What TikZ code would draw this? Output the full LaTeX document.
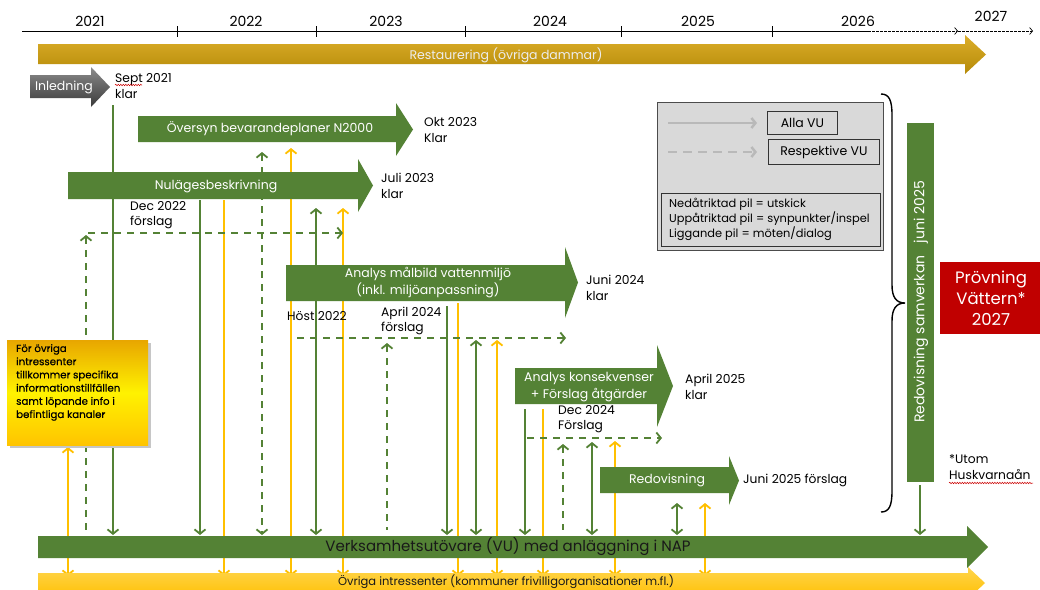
\documentclass[tikz,border=0pt]{standalone}
\usepackage{fontspec}
\setmainfont{Poppins}
\newfontfamily\infofont[FakeBold=0.5]{Poppins}
\usetikzlibrary{arrows.meta,decorations.pathmorphing}
\definecolor{grn}{HTML}{548235}
\definecolor{ylw}{HTML}{FFC000}
\definecolor{resttop}{HTML}{DCAE2A}
\definecolor{restbot}{HTML}{B58A08}
\definecolor{ovrtop}{HTML}{FFD54D}
\definecolor{ovrbot}{HTML}{FFBF00}
\definecolor{inltop}{HTML}{8C8C8C}
\definecolor{inlbot}{HTML}{3A3A3A}
\definecolor{legbg}{HTML}{D9D9D9}
\definecolor{provred}{HTML}{C00000}
\definecolor{infotop}{HTML}{E8A600}
\definecolor{infomid}{HTML}{FFF200}
\definecolor{infobot}{HTML}{FFC400}
\newcommand\parrow[8]{\path[#1] (#2,#5) -- (#3,#5) -- (#3,#7) -- (#4,{(#7+#8)/2}) -- (#3,#8) -- (#3,#6) -- (#2,#6) -- cycle;}
\begin{document}
\begin{tikzpicture}[x=1pt,y=-1pt,
  >={Straight Barb[length=4.5pt,width=11pt]},
  gv/.style={draw=grn,line width=1.8pt},
  gd/.style={gv,dash pattern=on 7pt off 6pt},
  yv/.style={draw=ylw,line width=1.8pt},
  lbl/.style={anchor=west,align=left,font=\fontsize{12.3}{15.5}\selectfont,inner sep=0pt},
  ptxt/.style={text=white,align=center,font=\fontsize{12.5}{17}\selectfont,inner sep=0pt},
  yr/.style={font=\fontsize{14}{16}\selectfont,inner sep=0pt},
  legt/.style={font=\fontsize{11.4}{15}\selectfont,inner sep=0pt},
  legarrow/.style={draw=gray!55,line width=2.5pt,-{Straight Barb[length=4pt,width=10pt]}},
  squig/.style={draw=red!80!black,line width=0.5pt,decorate,decoration={snake,amplitude=0.7pt,segment length=2.5pt}}
]
\clip (0,0) rectangle (1040,589);
\fill[white] (0,0) rectangle (1040,589);

% timeline
\coordinate (tl0) at (22,31); \coordinate (tl1) at (868,31);
\coordinate (tl2) at (958,31); \coordinate (tl3) at (1033,31);
\draw[line width=0.7pt] (tl0) -- (tl1);
\draw[line width=0.7pt,dash pattern=on 2.5pt off 1.5pt,-{Straight Barb[length=3pt,width=7pt,line width=0.7pt]}] (tl1) -- (tl2);
\draw[line width=0.7pt,dash pattern=on 2.5pt off 1.5pt,-{Straight Barb[length=3pt,width=7pt,line width=0.7pt]}] (tl2) -- (tl3);
\foreach \x in {177,316,465,621,772} \draw[line width=1pt] (\x,26) -- (\x,37);
\node[yr] (y2021) at (90,21) {2021};
\node[yr] (y2022) at (246,21) {2022};
\node[yr] (y2023) at (386,21) {2023};
\node[yr] (y2024) at (550,21) {2024};
\node[yr] (y2025) at (698,21) {2025};
\node[yr] (y2026) at (858,21) {2026};
\node[yr] (y2027) at (991,16) {2027};

% vertical connectors
\foreach \i/\x/\a/\b in {1/68/447/576, 2/86/235/530, 3/113/105/535, 4/200/200/535,
  5/224/200/576, 6/262/152/535, 7/291/148/576, 8/316/208/535, 9/343/208/576,
  10/387/343/530, 11/447/306/535, 12/458/303/576, 13/476/340/535, 14/497/340/576,
  15/525/409/535, 16/543/409/576, 17/563/444/530, 18/592/442/535, 19/615/441/576,
  20/677/503/535, 21/705/503/576, 22/920/485/535}
  {\coordinate (v\i t) at (\x,\a); \coordinate (v\i b) at (\x,\b);}
\draw[yv,<->] (v1t) -- (v1b);
\draw[gd,<-] (v2t) -- (v2b);
\draw[gv,->] (v3t) -- (v3b);
\draw[gv,->] (v4t) -- (v4b);
\draw[yv,->] (v5t) -- (v5b);
\draw[gd,<->] (v6t) -- (v6b);
\draw[yv,<->] (v7t) -- (v7b);
\draw[gv,<->] (v8t) -- (v8b);
\draw[yv,<->] (v9t) -- (v9b);
\draw[gd,<-] (v10t) -- (v10b);
\draw[gv,->] (v11t) -- (v11b);
\draw[yv,->] (v12t) -- (v12b);
\draw[gv,<->] (v13t) -- (v13b);
\draw[yv,<->] (v14t) -- (v14b);
\draw[gv,->] (v15t) -- (v15b);
\draw[yv,->] (v16t) -- (v16b);
\draw[gd,<-] (v17t) -- (v17b);
\draw[gv,<->] (v18t) -- (v18b);
\draw[yv,<->] (v19t) -- (v19b);
\draw[gv,<->] (v20t) -- (v20b);
\draw[yv,<->] (v21t) -- (v21b);
\draw[gv,->] (v22t) -- (v22b);

% horizontal dashed connectors
\coordinate (h1a) at (88,233); \coordinate (h1b) at (343,233);
\coordinate (h2a) at (297,338); \coordinate (h2b) at (566,338);
\coordinate (h3a) at (527,438); \coordinate (h3b) at (662,438);
\draw[gd,->] (h1a) -- (h1b);
\draw[gd,->] (h2a) -- (h2b);
\draw[gd,->] (h3a) -- (h3b);

% bars
\parrow{top color=resttop,bottom color=restbot}{38}{965}{986}{44}{64}{35}{74}
\node[text=white!93!black,font=\fontsize{12.5}{15}\selectfont,inner sep=0pt] (rest) at (506,55) {Restaurering (övriga dammar)};
\parrow{top color=inltop,bottom color=inlbot}{30}{91}{110}{75}{98}{67}{107}
\node[ptxt] (inl) at (64,87) {Inledning};
\parrow{fill=grn}{138}{396}{413}{116}{142}{103}{156}
\node[ptxt] (ovs) at (270,129) {Översyn bevarandeplaner N2000};
\parrow{fill=grn}{68}{358}{373}{172}{199}{159}{212}
\node[ptxt] (nul) at (216,186) {Nulägesbeskrivning};
\parrow{fill=grn}{286}{565}{578}{265}{301}{247}{318}
\node[ptxt] (mal) at (428,283) {Analys målbild vattenmiljö\\(inkl. miljöanpassning)};
\parrow{fill=grn}{515}{657}{673}{368}{404}{345}{427}
\node[ptxt] (kon) at (589,387) {Analys konsekvenser\\+ Förslag åtgärder};
\parrow{fill=grn}{600}{729}{739}{467}{493}{456}{505}
\node[ptxt] (red) at (667,480) {Redovisning};
\parrow{fill=grn}{38}{967}{988}{536}{558}{526}{568}
\node[text=black!90,font=\fontsize{15}{18}\selectfont,inner sep=0pt] (vu) at (508,547) {Verksamhetsutövare (VU) med anläggning i NAP};
\parrow{top color=ovrtop,bottom color=ovrbot}{38}{968}{985}{573}{593}{567}{599}
\node[text=black!90,font=\fontsize{11.5}{14}\selectfont,inner sep=0pt] (ovr) at (506,582) {Övriga intressenter (kommuner frivilligorganisationer m.fl.)};

% date labels
\node[lbl] (l1) at (115,86) {Sept 2021\\klar};
\draw[squig] (115,85) -- (142,85);
\node[lbl] (l2) at (424,130) {Okt 2023\\Klar};
\node[lbl] (l3) at (381,186) {Juli 2023\\klar};
\node[lbl] (l4) at (130,215) {Dec 2022\\förslag};
\node[lbl] (l5) at (586,288) {Juni 2024\\klar};
\node[lbl] (l6) at (287,316) {Höst 2022};
\node[lbl] (l7) at (381,321) {April 2024\\förslag};
\node[lbl] (l8) at (685,387) {April 2025\\klar};
\node[lbl] (l9) at (558,419) {Dec 2024\\Förslag};
\node[lbl] (l10) at (743,480) {Juni 2025 förslag};
\node[lbl] (l11) at (949,467) {*Utom\\Huskvarnaån};
\draw[squig] (949,483) -- (1033,483);

% legend
\node[draw=gray!60!black,line width=1pt,fill=legbg,minimum width=226pt,minimum height=148pt,inner sep=0pt,anchor=north west] (legend) at (657,102) {};
\coordinate (la1) at (668,123); \coordinate (la2) at (757,123);
\coordinate (lb1) at (668,152); \coordinate (lb2) at (757,152);
\draw[legarrow] (la1) -- (la2);
\draw[legarrow,dash pattern=on 9pt off 6pt] (lb1) -- (lb2);
\node[draw=black!80,line width=0.8pt,minimum width=70pt,minimum height=23pt,inner sep=0pt,anchor=north west,font=\fontsize{12.5}{14}\selectfont] (alla) at (767,111) {Alla VU};
\node[draw=black!80,line width=0.8pt,minimum width=111pt,minimum height=25pt,inner sep=0pt,anchor=north west,font=\fontsize{12.5}{14}\selectfont] (resp) at (768,139) {Respektive VU};
\node[draw=black!80,line width=0.8pt,minimum width=219pt,minimum height=53pt,inner sep=0pt,anchor=north west] (legbox) at (661,193) {};
\node[legt,anchor=west,align=left] (legtext) at (669,219) {Nedåtriktad pil = utskick\\Uppåtriktad pil = synpunkter/inspel\\Liggande pil = möten/dialog};

% brace
\draw[line width=1.4pt] (881,94) .. controls (889,94) and (892,100) .. (892,115) -- (892,285)
  .. controls (892,297) and (896,303) .. (905,303) .. controls (896,303) and (892,309) .. (892,321)
  -- (892,491) .. controls (892,506) and (889,512) .. (881,512);

% samverkan bar
\node[fill=grn,minimum width=27pt,minimum height=359pt,inner sep=0pt,anchor=north west] (samv) at (907,123) {};
\node[rotate=90,text=white,font=\fontsize{14}{16}\selectfont,inner sep=0pt] (samvt) at (921,302) {Redovisning samverkan\hspace{0.6em} juni 2025};

% provning
\node[fill=provred,minimum width=105pt,minimum height=72pt,inner sep=0pt,anchor=north west] (prov) at (940,262) {};
\node[text=white,align=center,font=\fontsize{16.5}{21}\selectfont,inner sep=0pt] (provt) at (991,298) {Prövning\\Vättern*\\2027};

% info box
\fill[gray!45] (10,343) rectangle (151,448);
\node[top color=infotop,bottom color=infobot,middle color=infomid,minimum width=141pt,minimum height=105pt,inner sep=0pt,anchor=north west] (info) at (7,340) {};
\node[anchor=north west,align=left,font=\infofont\fontsize{10.2}{13.2}\selectfont,inner sep=0pt] (infot) at (16,344) {För övriga\\intressenter\\tillkommer specifika\\informationstillfällen\\samt löpande info i\\befintliga kanaler};
\end{tikzpicture}
\end{document}
